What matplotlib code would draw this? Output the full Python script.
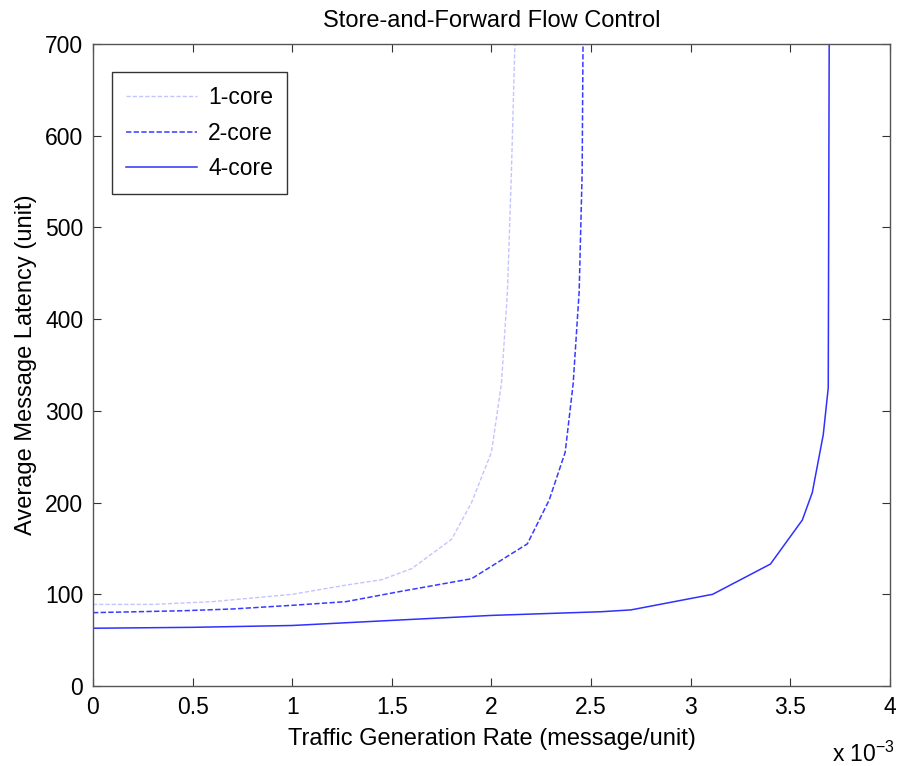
import matplotlib
matplotlib.use("Agg")
import matplotlib.pyplot as plt

plt.rcParams['font.family'] = ['Liberation Sans', 'DejaVu Sans']

# traffic generation rate (x 1e-3 message/unit) and average latency
rate_1core = [0.0, 0.3, 0.6, 1.0, 1.27, 1.45, 1.6, 1.8, 1.9, 2.0, 2.05, 2.08, 2.1, 2.12]
lat_1core = [89, 89, 92, 100, 110, 116, 128, 160, 200, 255, 330, 430, 560, 720]

rate_2core = [0.0, 0.44, 0.7, 1.0, 1.27, 1.54, 1.9, 2.18, 2.29, 2.37, 2.41, 2.44, 2.455, 2.46]
lat_2core = [80, 82, 84, 88, 92, 103, 117, 155, 203, 255, 330, 430, 560, 720]

rate_4core = [0.0, 0.5, 1.0, 1.54, 2.0, 2.55, 2.7, 3.11, 3.4, 3.56, 3.61, 3.665, 3.69, 3.695]
lat_4core = [63, 64, 66, 72, 77, 81, 83, 100, 133, 181, 211, 274, 325, 720]

x_ticks = [0, 0.5, 1, 1.5, 2, 2.5, 3, 3.5, 4]
y_ticks = [0, 100, 200, 300, 400, 500, 600, 700]

fig = plt.figure(figsize=(8.99, 7.66), dpi=100)
ax = fig.add_axes([0.1034, 0.1044, 0.8866, 0.8382])

ax.plot(rate_1core, lat_1core, color='#c4c4ff', linestyle=(0, (3, 1.5)), linewidth=1.0, label='1-core')
ax.plot(rate_2core, lat_2core, color='#3a3aff', linestyle=(0, (3.5, 1.5)), linewidth=1.1, label='2-core')
ax.plot(rate_4core, lat_4core, color='#3030ff', linestyle='-', linewidth=1.1, label='4-core')

ax.set_xlim(0, 4)
ax.set_ylim(0, 700)
ax.set_xticks(x_ticks)
ax.set_xticklabels(['0', '0.5', '1', '1.5', '2', '2.5', '3', '3.5', '4'])
ax.set_yticks(y_ticks)

ax.tick_params(direction='in', length=6, width=0.8, color='#333333',
               top=True, right=True, labelsize=16.5, pad=7)
for s in ax.spines.values():
    s.set_color('#555555')
    s.set_linewidth(1.0)

ax.set_xlabel('Traffic Generation Rate (message/unit)', fontsize=17, labelpad=7)
ax.set_ylabel('Average Message Latency (unit)', fontsize=17, labelpad=6)
ax.set_title('Store-and-Forward Flow Control', fontsize=17, pad=12.5)

fig.text(0.96, 0.006, r'x 10$^{\mathregular{-3}}$', fontsize=16.5, ha='center')

leg = ax.legend(loc='upper left', bbox_to_anchor=(0.024, 0.956), borderaxespad=0,
                fontsize=16.5, handlelength=3.1, handletextpad=0.5, labelspacing=0.55,
                borderpad=0.6, fancybox=False, framealpha=1)
leg.get_frame().set_edgecolor('#333333')
leg.get_frame().set_linewidth(1.0)

fig.savefig('out.png', dpi=100)
